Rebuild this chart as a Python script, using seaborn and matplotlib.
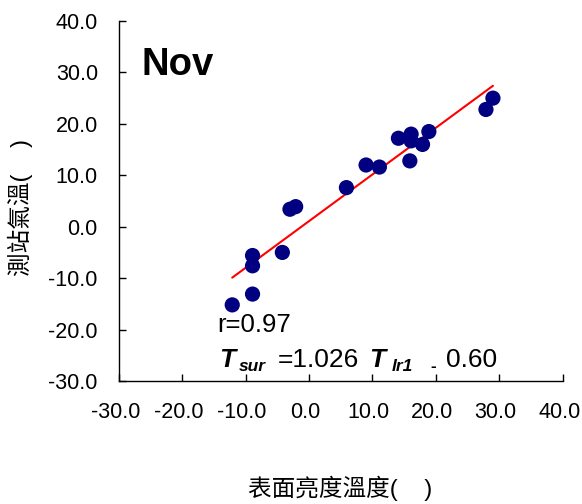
import matplotlib
matplotlib.use("Agg")
import matplotlib.pyplot as plt
import matplotlib.transforms as mtransforms
import seaborn as sns
import pandas as pd

# ---- data ----
t_lr1 = [29.0, 27.9, 18.9, 16.1, 14.1, 16.1, 17.9, 15.9, 9.0, 11.1, 5.9,
         -2.1, -3.0, -4.2, -8.9, -8.9, -8.9, -12.1]
t_sur = [25.0, 22.8, 18.5, 18.0, 17.2, 16.7, 16.0, 12.8, 12.0, 11.6, 7.6,
         3.9, 3.4, -5.0, -5.6, -7.6, -13.1, -15.2]
fit_x = [-12.1, 29.0]
fit_y = [-9.9, 27.4]
x_ticks = [-30, -20, -10, 0, 10, 20, 30, 40]
y_ticks = [-30, -20, -10, 0, 10, 20, 30, 40]
month = "Nov"
r_text = "r=0.97"
x_label = "表面亮度溫度(    )"
y_label = "測站氣溫(    )"

sns.set_style("ticks")
plt.rcParams['font.family'] = ['Liberation Sans', 'Noto Sans CJK TC', 'DejaVu Sans']
plt.rcParams['text.color'] = 'black'
plt.rcParams['axes.labelcolor'] = 'black'
plt.rcParams['xtick.color'] = 'black'
plt.rcParams['ytick.color'] = 'black'

W, H = 582, 504
fig = plt.figure(figsize=(W / 100, H / 100), dpi=100)
ax = fig.add_axes([118.7 / W, 1 - 381 / H, (562.7 - 118.7) / W, (381 - 21) / H])

df = pd.DataFrame({"x": t_lr1, "y": t_sur})
fit = pd.DataFrame({"x": fit_x, "y": fit_y})

sns.scatterplot(data=df, x="x", y="y", ax=ax, s=120, color="#000080",
                edgecolor="none", zorder=3, clip_on=False)
sns.lineplot(data=fit, x="x", y="y", ax=ax, color="#ff0000", linewidth=1.5,
             zorder=2)

ax.set_xlim(-30, 40)
ax.set_ylim(-30, 40)
ax.set_xticks(x_ticks)
ax.set_yticks(y_ticks)
ax.set_xticklabels([f"{v:.1f}" for v in x_ticks])
ax.set_yticklabels([f"{v:.1f}" for v in y_ticks])
ax.tick_params(direction="in", length=5, width=1, labelsize=15.5, pad=15,
               colors="black", labelcolor="black")
shift = mtransforms.ScaledTranslation(-3.5 / 100, 0, fig.dpi_scale_trans)
for lbl in ax.get_xticklabels():
    lbl.set_transform(lbl.get_transform() + shift)
for s in ["top", "right"]:
    ax.spines[s].set_visible(False)
for s in ["left", "bottom"]:
    ax.spines[s].set_color("black")
    ax.spines[s].set_linewidth(1)
ax.set_xlabel("")
ax.set_ylabel("")

# axis titles
fig.text(340 / W, 1 - 488 / H, x_label, ha="center", va="center", fontsize=17,
         color="black")
fig.text(20 / W, 1 - 208 / H, y_label, ha="center", va="center", fontsize=17,
         rotation=90, color="black")

# annotations (pixel positions converted to figure fraction)
def ftext(px, py, s, **kw):
    fig.text(px / W, 1 - py / H, s, va="baseline", color="black", **kw)

ftext(141, 75, month, fontsize=27.5, fontweight="bold")
ftext(217, 332.5, r_text, fontsize=18.5)
ftext(219, 366.7, "T", fontsize=19, fontweight="bold", fontstyle="italic")
ftext(239, 371, "sur", fontsize=12.5, fontweight="bold", fontstyle="italic")
ftext(278, 366.7, "=1.026", fontsize=19)
ftext(369, 366.7, "T", fontsize=19, fontweight="bold", fontstyle="italic")
ftext(392, 371, "lr1", fontsize=12.5, fontweight="bold", fontstyle="italic")
ftext(430, 371, "-", fontsize=12.5, fontweight="bold")
ftext(446, 366.7, "0.60", fontsize=19)

fig.savefig("out.png", dpi=100)
